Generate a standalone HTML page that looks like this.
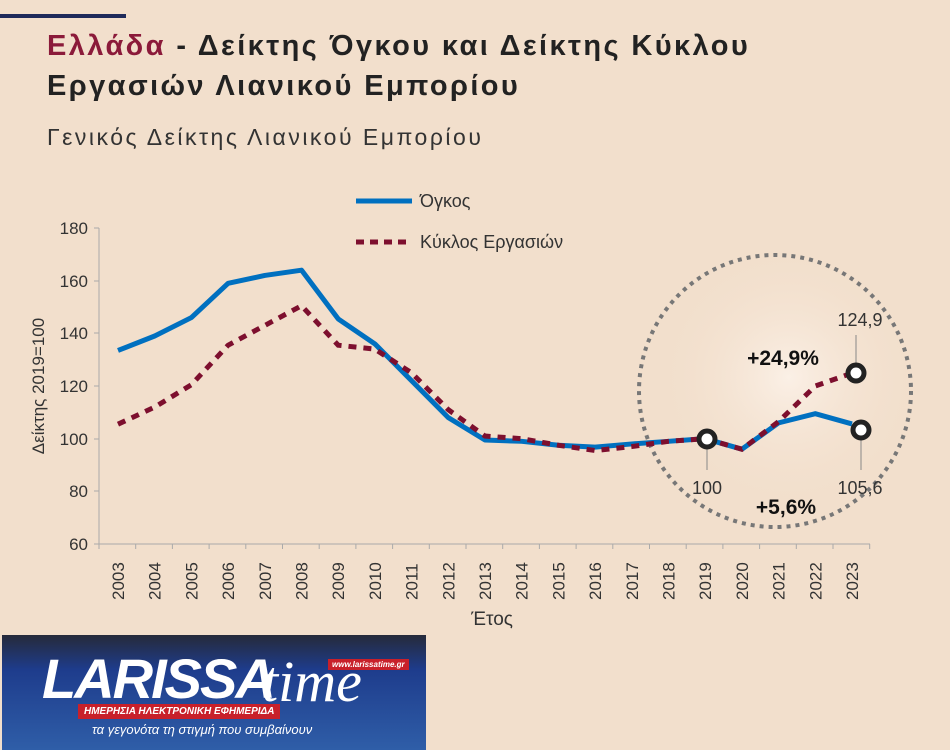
<!DOCTYPE html><html><head><meta charset="utf-8"><style>
body{margin:0;width:950px;height:750px;background:#f2dfcc;overflow:hidden;font-family:"Liberation Sans","DejaVu Sans",sans-serif;position:relative}
.t{position:absolute;left:47px;font-weight:bold;font-size:29px;color:#222;letter-spacing:2.4px}
</style></head><body>
<div style="position:absolute;left:0;top:14px;width:126px;height:4px;background:#1f2a5a"></div>
<div class="t" style="top:30px"><span style="color:#8b1a3a">Ελλάδα</span> - Δείκτης Όγκου και Δείκτης Κύκλου</div>
<div class="t" style="top:70px">Εργασιών Λιανικού Εμπορίου</div>
<div style="position:absolute;left:47px;top:124px;font-size:23px;color:#333;letter-spacing:2.5px">Γενικός Δείκτης Λιανικού Εμπορίου</div>
<svg width="950" height="750" style="position:absolute;left:0;top:0" font-family="Liberation Sans, sans-serif">
<defs><radialGradient id="g" cx="0.55" cy="0.45" r="0.5"><stop offset="0" stop-color="#fbf0e6"/><stop offset="1" stop-color="#f2dfcc" stop-opacity="0"/></radialGradient></defs>
<circle cx="775" cy="391" r="136" fill="url(#g)"/>
<circle cx="775" cy="391" r="136" fill="none" stroke="#777" stroke-width="4" stroke-dasharray="4 5"/>
<line x1="99" y1="228" x2="99" y2="544" stroke="#aaa"/>
<line x1="99" y1="544" x2="870" y2="544" stroke="#aaa"/>
<g stroke="#aaa">
<line x1="94" y1="228" x2="99" y2="228"/><line x1="94" y1="281" x2="99" y2="281"/><line x1="94" y1="333" x2="99" y2="333"/><line x1="94" y1="386" x2="99" y2="386"/><line x1="94" y1="439" x2="99" y2="439"/><line x1="94" y1="491" x2="99" y2="491"/><line x1="94" y1="544" x2="99" y2="544"/>
</g>
<g font-size="17" fill="#333" text-anchor="end">
<text x="88" y="234">180</text><text x="88" y="287">160</text><text x="88" y="339">140</text><text x="88" y="392">120</text><text x="88" y="445">100</text><text x="88" y="497">80</text><text x="88" y="550">60</text>
</g>
<text transform="translate(44,386) rotate(-90)" font-size="17" fill="#333" text-anchor="middle">Δείκτης 2019=100</text>
<g id="xt" stroke="#aaa"></g>
<g id="xl" font-size="17" fill="#333"></g>
<text x="492" y="625" font-size="19" fill="#333" text-anchor="middle">Έτος</text>
<line x1="356" y1="201" x2="412" y2="201" stroke="#0070c0" stroke-width="5"/>
<text x="420" y="207" font-size="18" fill="#333">Όγκος</text>
<line x1="356" y1="242" x2="412" y2="242" stroke="#7d0f2e" stroke-width="5" stroke-dasharray="8 6"/>
<text x="420" y="248" font-size="18" fill="#333">Κύκλος Εργασιών</text>
<polyline id="v" fill="none" stroke="#0070c0" stroke-width="5" stroke-linejoin="round"/>
<polyline id="c" fill="none" stroke="#7d0f2e" stroke-width="5" stroke-dasharray="8 7"/>
<line x1="707" y1="439" x2="707" y2="470" stroke="#888"/>
<line x1="861" y1="430" x2="861" y2="470" stroke="#888"/>
<line x1="856" y1="372" x2="856" y2="335" stroke="#888"/>
<g fill="#fff" stroke="#222" stroke-width="5"><circle cx="707" cy="439" r="8"/><circle cx="861" cy="430" r="8"/><circle cx="856" cy="373" r="8"/></g>
<text x="707" y="494" font-size="18" fill="#333" text-anchor="middle">100</text>
<text x="860" y="494" font-size="18" fill="#333" text-anchor="middle">105,6</text>
<text x="860" y="326" font-size="18" fill="#333" text-anchor="middle">124,9</text>
<text x="783" y="365" font-size="21" font-weight="bold" fill="#111" text-anchor="middle">+24,9%</text>
<text x="786" y="514" font-size="21" font-weight="bold" fill="#111" text-anchor="middle">+5,6%</text>
</svg>
<div style="position:absolute;left:2px;top:635px;width:424px;height:115px;background:linear-gradient(#262a3a,#1e3c8c 30%,#2f5ea8)"></div>
<div style="position:absolute;left:42px;top:646px;font-size:56px;font-weight:bold;font-style:italic;color:#fff;letter-spacing:-2px">LARISSA</div>
<div style="position:absolute;left:262px;top:648px;font-size:58px;font-style:italic;font-family:'Liberation Serif',serif;color:#fff">time</div>
<div style="position:absolute;left:328px;top:659px;background:#c8202a;color:#fff;font-size:8px;font-weight:bold;font-style:italic;padding:1px 4px">www.larissatime.gr</div>
<div style="position:absolute;left:78px;top:704px;background:#c8202a;color:#fff;font-size:10px;font-weight:bold;font-style:italic;padding:2px 6px">ΗΜΕΡΗΣΙΑ ΗΛΕΚΤΡΟΝΙΚΗ ΕΦΗΜΕΡΙΔΑ</div>
<div style="position:absolute;left:92px;top:722px;color:#fff;font-size:13px;font-style:italic">τα γεγονότα τη στιγμή που συμβαίνουν</div>
<script>
var V=[133.5,139,146,159,162,164,145.5,136,122,108,99.5,99,97.5,96.8,98,99,100,96,106,109.5,105.6];
var C=[105.5,112,120.5,135.5,143,150.5,135.5,134,125,111,101,100,97.5,95.5,97,99,100,96,106.5,120,124.9];
function X(i){return 118+i*36.7}function Y(v){return 544-(v-60)*2.633}
document.getElementById('v').setAttribute('points',V.map((v,i)=>X(i)+','+Y(v)).join(' '));
document.getElementById('c').setAttribute('points',C.map((v,i)=>X(i)+','+Y(v)).join(' '));
var ns='http://www.w3.org/2000/svg',xt=document.getElementById('xt'),xl=document.getElementById('xl');
for(var i=0;i<=21;i++){var l=document.createElementNS(ns,'line');var x=99+i*36.7;l.setAttribute('x1',x);l.setAttribute('x2',x);l.setAttribute('y1',544);l.setAttribute('y2',549);xt.appendChild(l);}
for(var i=0;i<21;i++){var t=document.createElementNS(ns,'text');t.setAttribute('transform','translate('+(X(i)+6)+',600) rotate(-90)');t.textContent=2003+i;xl.appendChild(t);}
</script>
</body></html>
